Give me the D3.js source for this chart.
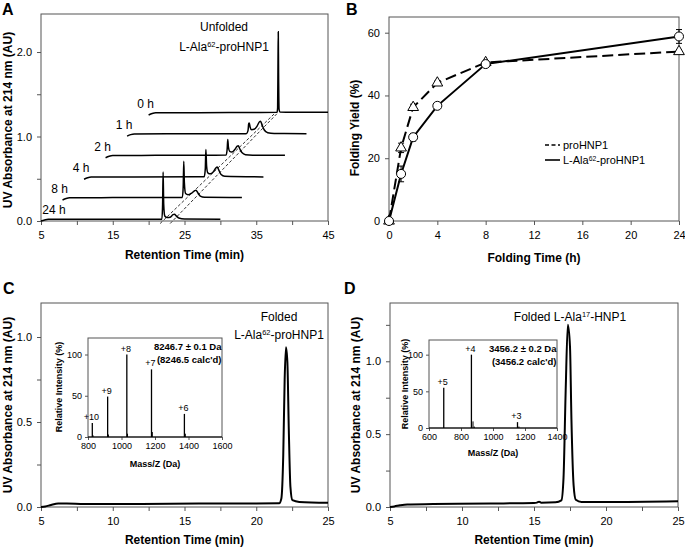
<!DOCTYPE html>
<html><head><meta charset="utf-8">
<script src="https://cdn.jsdelivr.net/npm/d3@7"></script>
<style>body{margin:0;background:#fff}</style>
</head><body><script>
const FONT = '"Liberation Sans", Arial, Helvetica, sans-serif';

// ---------- Panel A data (retention time in min, absorbance in AU, before stacking) ----------
const traceLabels = ["0 h", "1 h", "2 h", "4 h", "8 h", "24 h"];
const traceShiftMin = [15, 12, 9, 6, 3, 0];
const traceShiftAU = [1.26, 1.01, 0.755, 0.5, 0.255, 0];
const trace0h = [[5,-0.006],[5.5,0.012],[6,0.02],[12,0.022],[20,0.024],[22.9,0.026],[22.98,0.08],[23.03,0.6],[23.07,0.98],[23.11,0.5],[23.18,0.06],[23.3,0.03],[25,0.028],[30,0.028]];
const trace1h = [[5,-0.006],[5.5,0.012],[6,0.02],[12,0.022],[21.6,0.024],[21.85,0.06],[21.95,0.14],[22.03,0.15],[22.15,0.1],[22.35,0.07],[22.7,0.075],[23.1,0.11],[23.45,0.165],[23.6,0.17],[23.8,0.13],[24.1,0.07],[24.6,0.035],[25.5,0.026],[30,0.024]];
const trace2h = [[5,-0.006],[5.5,0.012],[6,0.02],[12,0.022],[21.8,0.025],[21.95,0.1],[22.03,0.21],[22.12,0.12],[22.3,0.07],[22.6,0.062],[23.0,0.09],[23.35,0.13],[23.5,0.135],[23.7,0.1],[24.0,0.055],[24.5,0.03],[25.5,0.024],[30,0.022]];
const trace4h = [[5,-0.006],[5.5,0.012],[6,0.02],[12,0.022],[21.75,0.025],[21.9,0.12],[21.98,0.345],[22.08,0.15],[22.25,0.07],[22.6,0.058],[23.0,0.08],[23.4,0.13],[23.55,0.14],[23.8,0.1],[24.1,0.05],[24.6,0.03],[30,0.022]];
const trace8h = [[5,-0.006],[5.5,0.012],[6,0.02],[12,0.022],[21.7,0.024],[21.82,0.15],[21.9,0.452],[21.98,0.2],[22.15,0.07],[22.5,0.055],[23.0,0.075],[23.45,0.105],[23.6,0.108],[23.85,0.08],[24.2,0.04],[24.8,0.026],[30,0.022]];
const trace24h = [[5,0.0],[5.5,0.012],[6,0.02],[12,0.02],[21.85,0.022],[21.95,0.2],[22.02,0.58],[22.1,0.2],[22.25,0.06],[22.6,0.04],[23.0,0.045],[23.4,0.075],[23.6,0.08],[23.85,0.06],[24.2,0.035],[25,0.024],[30,0.02]];
const tracesA = [trace0h, trace1h, trace2h, trace4h, trace8h, trace24h];
const guideLines = [[[21.6,-0.03],[37.65,1.28]], [[23.0,-0.03],[38.0,1.28]]];
const ticksAx = [5,10,15,20,25,30,35,40,45];
const ticksAy = [0,0.5,1.0,1.5,2.0];

// ---------- Panel B data ----------
const foldTimes = [0, 1, 2, 4, 8, 24];
const yieldPro = [0, 23.3, 36.2, 44, 50.5, 54];
const errPro = [0, 1.5, 1, 0.6, 0.5, 0.5];
const yieldAla = [0, 15, 26.7, 36.7, 50, 58.8];
const errAla = [0, 2.5, 1.2, 0.5, 0.6, 2.2];
const ticksBx = [0,4,8,12,16,20,24];
const ticksBy = [0,20,40,60];

// ---------- Panel C / D chromatograms ----------
const traceC = [[5,0],[5.3,0.003],[5.7,0.012],[6.2,0.02],[6.8,0.02],[8,0.017],[12,0.018],[16,0.02],[20,0.021],[21.6,0.022],[21.75,0.05],[21.88,0.3],[21.98,0.75],[22.07,0.94],[22.17,0.85],[22.27,0.45],[22.38,0.12],[22.52,0.04],[23,0.03],[25,0.025]];
const traceD = [[5,0],[5.3,0.004],[5.7,0.012],[6.2,0.018],[8,0.02],[12,0.024],[15,0.028],[15.2,0.03],[15.35,0.036],[15.5,0.03],[16.5,0.032],[16.9,0.045],[17.05,0.2],[17.2,0.8],[17.35,1.25],[17.5,1.1],[17.6,0.6],[17.75,0.15],[17.9,0.05],[18.3,0.035],[20,0.035],[25,0.04]];
const ticksCDx = [5,7.5,10,12.5,15,17.5,20,22.5,25];
const ticksCy = [0,0.25,0.5,0.75,1.0];
const ticksDy = [0,0.25,0.5,0.75,1.0,1.25];

// ---------- Insets (mass spectra) ----------
const mzC = [825.7, 917.3, 1031.8, 1179.1, 1375.5];
const intC = [17, 49, 100, 82, 28];
const chargeC = ["+10", "+9", "+8", "+7", "+6"];
const minorC = [[830,2],[922,3],[1036,4],[1184,6],[1381,4]];
const mzD = [692.2, 865.1, 1153.1];
const intD = [55, 100, 8];
const chargeD = ["+5", "+4", "+3"];
const minorD = [[875,9],[883,2],[1162,2]];
const ticksIxC = [800,1000,1200,1400,1600];
const ticksIxD = [600,800,1000,1200,1400];
const ticksIy = [0,50,100];

const svg = d3.select("body").append("svg").attr("width",685).attr("height",548)
  .style("font-family", FONT);

function txt(g, x, y, s, o={}) {
  return g.append("text").attr("x",x).attr("y",y).text(s)
    .attr("font-size", o.fs||11).attr("font-weight", o.fw||"normal")
    .attr("text-anchor", o.anchor||"start").attr("fill","#000");
}
function supText(g, x, y, parts, o={}) {
  const t = g.append("text").attr("x",x).attr("y",y).attr("font-size",o.fs||12)
    .attr("text-anchor",o.anchor||"middle").attr("font-weight",o.fw||"normal");
  let raised = false;
  parts.forEach(([s, sup]) => {
    const ts = t.append("tspan").text(s);
    if (sup && !raised) { ts.attr("font-size","0.62em").attr("dy","-0.5em"); raised = true; }
    else if (!sup && raised) { ts.attr("dy","0.31em"); raised = false; }
  });
  return t;
}
function frame(g, x, y, cfg) {
  const [x0,x1] = x.range(), [y0,y1] = y.range();
  g.append("rect").attr("x",x0).attr("y",y1).attr("width",x1-x0).attr("height",y0-y1)
    .attr("fill", cfg.fill||"none").attr("stroke","#555").attr("stroke-width",1);
  const ax = g.append("g").attr("transform",`translate(0,${y0})`)
    .call(d3.axisBottom(x).tickValues(cfg.xt).tickFormat(cfg.xf).tickSize(cfg.ts||4).tickPadding(cfg.tpx||6));
  const ay = g.append("g").attr("transform",`translate(${x0},0)`)
    .call(d3.axisLeft(y).tickValues(cfg.yt).tickFormat(cfg.yf).tickSize(cfg.ts||4).tickPadding(cfg.tpy||5));
  [ax, ay].forEach(a => {
    a.select(".domain").remove();
    a.selectAll("line").attr("stroke","#555");
    a.selectAll("text").attr("font-size", cfg.fs||11).attr("fill","#000").attr("font-family",FONT);
  });
}
function yTitle(g, x, y, s, fs) {
  g.append("text").attr("transform",`translate(${x},${y}) rotate(-90)`).attr("text-anchor","middle")
    .attr("font-size",fs).attr("font-weight","bold").text(s);
}

// ================= Panel A =================
const gA = svg.append("g");
const xA = d3.scaleLinear().domain([5,45]).range([41,328]);
const yA = d3.scaleLinear().domain([0,2.45]).range([221,14]);
frame(gA, xA, yA, {xt: ticksAx, xf: d => ((d-5)%10===0 ? d : ""), yt: ticksAy, yf: d => (d%1===0 ? d.toFixed(1) : "")});
const lineA = d3.line().curve(d3.curveMonotoneX);
guideLines.forEach(l => {
  gA.append("path").attr("d", lineA(l.map(p => [xA(p[0]), yA(p[1])])))
    .attr("fill","none").attr("stroke","#000").attr("stroke-width",0.8).attr("stroke-dasharray","3,2");
});
tracesA.forEach((tr, i) => {
  const pts = tr.map(p => [xA(p[0]+traceShiftMin[i]), yA(p[1]+traceShiftAU[i])]);
  gA.append("path").attr("d", lineA(pts)).attr("fill","none").attr("stroke","#000").attr("stroke-width",1.5);
  const sx = xA(tr[0][0]+traceShiftMin[i]);
  const cx = Math.max(sx - 3, xA.range()[0] + 13);
  txt(gA, cx, yA(traceShiftAU[i]+0.02) - 5, traceLabels[i], {fs:12, anchor:"middle"});
});
txt(gA, 224, 31, "Unfolded", {fs:12, anchor:"middle"});
supText(gA, 224, 51, [["L-Ala",false],["62",true],["-proHNP1",false]], {fs:12});
txt(gA, 184.5, 259, "Retention Time (min)", {fs:12, fw:"bold", anchor:"middle"});
yTitle(gA, 12, 120, "UV Absorbance at 214 nm (AU)", 12);
txt(gA, 2, 15, "A", {fs:16, fw:"bold"});

// ================= Panel B =================
const gB = svg.append("g");
const xB = d3.scaleLinear().domain([0,24]).range([389,679]);
const yB = d3.scaleLinear().domain([0,65]).range([221,17]);
frame(gB, xB, yB, {xt: ticksBx, xf: d => d, yt: ticksBy, yf: d => d});
const lineB = d3.line().x((d,i) => xB(foldTimes[i])).y(d => yB(d));
gB.append("path").attr("d", lineB(yieldPro)).attr("fill","none").attr("stroke","#000")
  .attr("stroke-width",2).attr("stroke-dasharray","11,5");
gB.append("path").attr("d", lineB(yieldAla)).attr("fill","none").attr("stroke","#000").attr("stroke-width",2);
function errBars(vals, errs) {
  vals.forEach((v,i) => {
    if (!errs[i]) return;
    const x = xB(foldTimes[i]), ya = yB(v+errs[i]), yb = yB(v-errs[i]);
    gB.append("line").attr("x1",x).attr("x2",x).attr("y1",ya).attr("y2",yb).attr("stroke","#000");
    [ya,yb].forEach(yy => gB.append("line").attr("x1",x-3).attr("x2",x+3).attr("y1",yy).attr("y2",yy).attr("stroke","#000"));
  });
}
errBars(yieldPro, errPro);
errBars(yieldAla, errAla);
yieldPro.forEach((v,i) => {
  gB.append("path").attr("d", d3.symbol(d3.symbolTriangle).size(50)())
    .attr("transform",`translate(${xB(foldTimes[i])},${yB(v)})`)
    .attr("fill","#fff").attr("stroke","#000").attr("stroke-width",1);
});
yieldAla.forEach((v,i) => {
  gB.append("circle").attr("cx",xB(foldTimes[i])).attr("cy",yB(v)).attr("r",4.5)
    .attr("fill","#fff").attr("stroke","#000").attr("stroke-width",1);
});
gB.append("line").attr("x1",545).attr("x2",560).attr("y1",145).attr("y2",145).attr("stroke","#000").attr("stroke-width",1.6).attr("stroke-dasharray","4,2.5");
gB.append("line").attr("x1",545).attr("x2",560).attr("y1",160).attr("y2",160).attr("stroke","#000").attr("stroke-width",1.6);
txt(gB, 563, 149, "proHNP1", {fs:11});
supText(gB, 563, 164, [["L-Ala",false],["62",true],["-proHNP1",false]], {fs:11, anchor:"start"});
txt(gB, 534, 262, "Folding Time (h)", {fs:12, fw:"bold", anchor:"middle"});
yTitle(gB, 359, 128, "Folding Yield (%)", 12);
txt(gB, 346, 15, "B", {fs:16, fw:"bold"});

// ================= Panel C =================
const gC = svg.append("g");
const xC = d3.scaleLinear().domain([5,25]).range([41,328]);
const yC = d3.scaleLinear().domain([0,1.2]).range([507,303]);
frame(gC, xC, yC, {xt: ticksCDx, xf: d => (d%5===0 ? d : ""), yt: ticksCy, yf: d => ((d*2)%1===0 ? d.toFixed(1) : "")});
const lineCD = d3.line().curve(d3.curveMonotoneX);
gC.append("path").attr("d", lineCD(traceC.map(p => [xC(p[0]), yC(p[1])]))).attr("fill","none").attr("stroke","#000").attr("stroke-width",2);
txt(gC, 279, 321, "Folded", {fs:12, anchor:"middle"});
supText(gC, 279, 339, [["L-Ala",false],["62",true],["-proHNP1",false]], {fs:12});
txt(gC, 184.5, 544, "Retention Time (min)", {fs:12, fw:"bold", anchor:"middle"});
yTitle(gC, 12, 405, "UV Absorbance at 214 nm (AU)", 12);
txt(gC, 3, 294, "C", {fs:16, fw:"bold"});

// inset C
const xIC = d3.scaleLinear().domain([800,1600]).range([88,222]);
const yIC = d3.scaleLinear().domain([0,120]).range([437,338]);
function inset(g, x, y, mz, inten, charges, minor, xt, massTxt, calcTxt, ytx, yty, xtitleY) {
  frame(g, x, y, {xt: xt, xf: d => d, yt: ticksIy, yf: d => d, fs: 9, ts: 3, tpx: 3, tpy: 3, fill:"#fff"});
  g.append("line").attr("x1",x.range()[0]).attr("x2",x.range()[1]).attr("y1",y(0)).attr("y2",y(0)).attr("stroke","#000").attr("stroke-width",1.2);
  minor.forEach(m => g.append("line").attr("x1",x(m[0])).attr("x2",x(m[0])).attr("y1",y(0)).attr("y2",y(m[1])).attr("stroke","#000").attr("stroke-width",1));
  mz.forEach((m,i) => {
    g.append("line").attr("x1",x(m)).attr("x2",x(m)).attr("y1",y(0)).attr("y2",y(inten[i])).attr("stroke","#000").attr("stroke-width",1.3);
    txt(g, x(m)-1, y(inten[i])-3, charges[i], {fs:9, anchor:"middle"});
  });
  txt(g, x.range()[1]-0.5, y.range()[1]+12, massTxt, {fs:9.5, fw:"bold", anchor:"end"});
  txt(g, x.range()[1]-0.5, y.range()[1]+25, calcTxt, {fs:9.5, fw:"bold", anchor:"end"});
  txt(g, (x.range()[0]+x.range()[1])/2, xtitleY, "Mass/Z (Da)", {fs:9, fw:"bold", anchor:"middle"});
  yTitle(g, ytx, yty, "Relative Intensity (%)", 9);
}
inset(gC, xIC, yIC, mzC, intC, chargeC, minorC, ticksIxC, "8246.7 ± 0.1 Da", "(8246.5 calc'd)", 62, 387, 467);

// ================= Panel D =================
const gD = svg.append("g");
const xD = d3.scaleLinear().domain([5,25]).range([390,678]);
const yD = d3.scaleLinear().domain([0,1.4]).range([507,303]);
frame(gD, xD, yD, {xt: ticksCDx, xf: d => (d%5===0 ? d : ""), yt: ticksDy, yf: d => ((d*2)%1===0 ? d.toFixed(1) : "")});
gD.append("path").attr("d", lineCD(traceD.map(p => [xD(p[0]), yD(p[1])]))).attr("fill","none").attr("stroke","#000").attr("stroke-width",2);
supText(gD, 570, 321, [["Folded L-Ala",false],["17",true],["-HNP1",false]], {fs:12});
txt(gD, 534, 544, "Retention Time (min)", {fs:12, fw:"bold", anchor:"middle"});
yTitle(gD, 360, 405, "UV Absorbance at 214 nm (AU)", 12);
txt(gD, 344, 294, "D", {fs:16, fw:"bold"});

const xID = d3.scaleLinear().domain([600,1400]).range([429,557]);
const yID = d3.scaleLinear().domain([0,120]).range([428,340]);
inset(gD, xID, yID, mzD, intD, chargeD, minorD, ticksIxD, "3456.2 ± 0.2 Da", "(3456.2 calc'd)", 408, 384, 456);
</script></body></html>
